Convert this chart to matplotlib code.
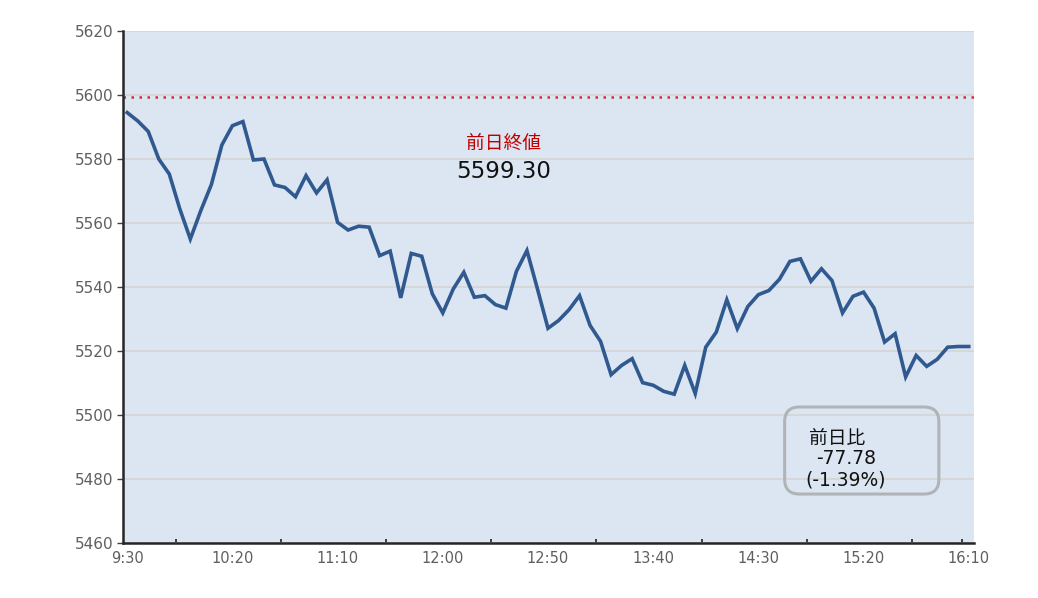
import matplotlib
matplotlib.use("Agg")
import matplotlib.pyplot as plt
from matplotlib.patches import FancyBboxPatch
import numpy as np

plt.rcParams['font.family'] = ['DejaVu Sans', 'Noto Sans CJK JP']

# ---- data ----
start_minute = 9 * 60 + 30
step_minutes = 5
values = [
    5594.5, 5591.9, 5588.6, 5580.0, 5575.3, 5564.4, 5555.0, 5563.9, 5572.0, 5584.4,
    5590.4, 5591.7, 5579.7, 5580.0, 5571.9, 5571.1, 5568.2, 5574.8, 5569.4, 5573.5,
    5560.2, 5557.8, 5559.0, 5558.7, 5549.8, 5551.2, 5536.6, 5550.5, 5549.6, 5537.9,
    5531.9, 5539.4, 5544.6, 5536.8, 5537.3, 5534.5, 5533.4, 5544.9, 5551.4, 5539.4,
    5527.1, 5529.5, 5532.9, 5537.3, 5528.0, 5523.0, 5512.6, 5515.5, 5517.6, 5510.1,
    5509.3, 5507.4, 5506.5, 5515.5, 5506.7, 5521.2, 5525.9, 5536.0, 5527.0, 5533.9,
    5537.6, 5538.9, 5542.4, 5548.0, 5548.8, 5541.8, 5545.7, 5542.0, 5531.9, 5537.1,
    5538.4, 5533.4, 5522.8, 5525.4, 5511.9, 5518.6, 5515.2, 5517.4, 5521.2, 5521.4,
    5521.4,
]
prev_close = 5599.30
change = -77.78
change_pct = -1.39
label_minutes = [0, 50, 100, 150, 200, 250, 300, 350, 400]
tick_labels = ["9:30", "10:20", "11:10", "12:00", "12:50", "13:40", "14:30", "15:20", "16:10"]
mark_minutes = [23, 73, 123, 173, 223, 273, 323, 373, 397]
y_ticks = [5460, 5480, 5500, 5520, 5540, 5560, 5580, 5600, 5620]

x = np.arange(len(values)) * step_minutes

fig = plt.figure(figsize=(10.38, 5.98), dpi=100)
ax = fig.add_axes([123 / 1038, 1 - 543 / 598, (974 - 123) / 1038, (543 - 31) / 598])
ax.set_facecolor('#dce6f2')

ax.set_ylim(5460, 5620)
ax.set_xlim(-2.0, 402.5)
ax.set_yticks(y_ticks)
ax.set_yticklabels([str(v) for v in y_ticks])
ax.yaxis.grid(True, color='#d5d5d5', linewidth=1.2)
ax.set_axisbelow(True)

ax.plot(x, values, color='#30598f', linewidth=2.6, solid_joinstyle='miter', zorder=3)
ax.axhline(prev_close, color='#d03030', linewidth=1.8, linestyle=(0, (1, 2.2)), zorder=2)

# x axis: labels without marks, marks at separate positions
ax.set_xticks(label_minutes)
ax.set_xticklabels(tick_labels)
ax.tick_params(axis='x', length=0, pad=6, labelsize=10.5, labelcolor='#5f5f5f')
ax.set_xticks(mark_minutes, minor=True)
ax.tick_params(axis='x', which='minor', direction='in', length=3, width=1.2, color='#222222')
ax.tick_params(axis='y', direction='out', length=4, width=1, color='#404040',
               labelsize=11, labelcolor='#5f5f5f', pad=3)

for s in ['top', 'right']:
    ax.spines[s].set_visible(False)
ax.spines['left'].set_color('#262626')
ax.spines['left'].set_linewidth(1.8)
ax.spines['bottom'].set_color('#262626')
ax.spines['bottom'].set_linewidth(1.8)

# annotations
ax.text(179, 5585.0, "前日終値", color='#c00000', fontsize=13.5, ha='center', va='center')
ax.text(179, 5576.0, f"{prev_close:.2f}", color='#111111', fontsize=16.5, ha='center', va='center')

# change box
x0, x1 = 312.5, 385.8
y0, y1 = 5475.3, 5502.5
box = FancyBboxPatch((x0, y0), x1 - x0, y1 - y0,
                     boxstyle="round,pad=0,rounding_size=7",
                     mutation_aspect=0.66,
                     facecolor='none', edgecolor='#b0b4b8', linewidth=2.2, zorder=4)
ax.add_patch(box)
ax.text(324, 5492.7, "前日比", color='#111111', fontsize=13.5, ha='left', va='center', zorder=5)
ax.text(327.4, 5486.5, f"{change:.2f}", color='#111111', fontsize=13.5, ha='left', va='center', zorder=5)
ax.text(322.2, 5479.6, f"({change_pct:.2f}%)", color='#111111', fontsize=13.5, ha='left', va='center', zorder=5)

fig.savefig("out.png", dpi=100, facecolor='white')
